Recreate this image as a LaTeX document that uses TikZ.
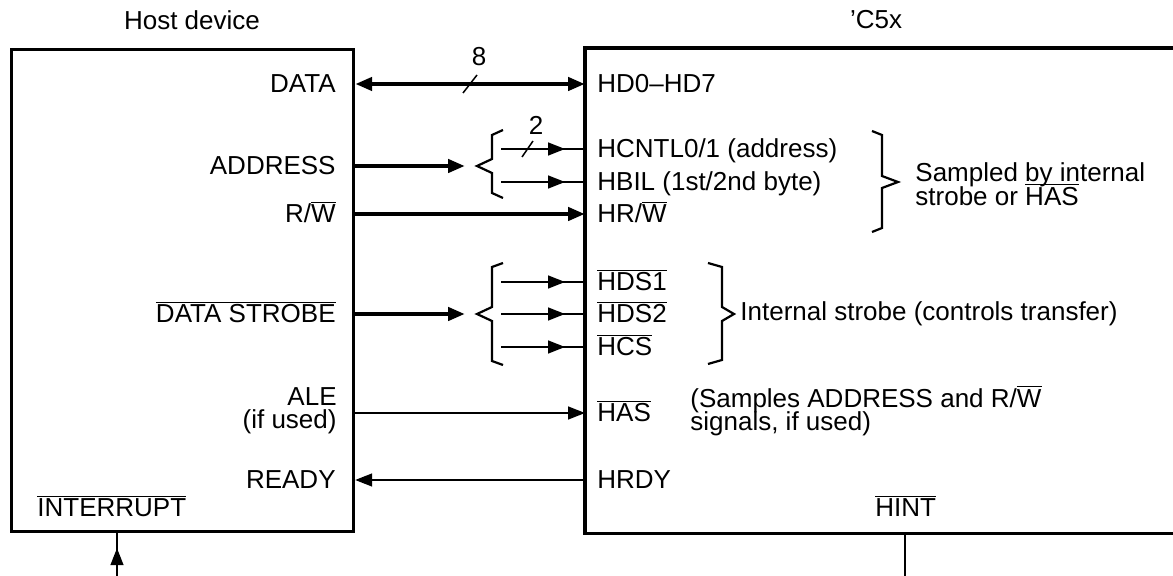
\documentclass[tikz,border=0pt]{standalone}
\usepackage{fontspec}
\setmainfont{Liberation Sans}
\usetikzlibrary{positioning, arrows.meta, calc, decorations.markings}

\newcommand{\ovl}[1]{\ensuremath{\overline{\mbox{#1}}}}

\begin{document}
\begin{tikzpicture}[
    x=0.5pt, y=-0.5pt,
    >={Triangle[length=8.5pt,width=6.5pt]},
    font=\fontsize{13}{11.75}\selectfont,
    box/.style={
        rectangle,
        line width=1.6pt,
        inner sep=0pt,
        minimum height=241pt
    },
    bus/.style={
        line width=2.4pt
    },
    wire/.style={
        line width=0.75pt
    },
    brace/.style={
        line width=1.1pt,
        line join=miter
    },
    midtip/.style={
        postaction={decorate, decoration={markings,
            mark=at position -#1 with {\arrow{>}}}}
    },
    lbl/.style={
        inner sep=0pt,
        text height=9pt,
        text depth=0pt
    },
    hostlbl/.style={
        lbl,
        anchor=east
    },
    dsplbl/.style={
        lbl,
        anchor=west
    },
    note/.style={
        inner sep=0pt,
        align=left,
        anchor=west,
        execute at begin node={\lineskiplimit=-20pt}
    }
]
    \useasboundingbox (0,0) rectangle (1173,576);

    % Boxes
    \node[box, draw, anchor=north west, minimum width=171pt] (host) at (10,48) {};
    \node[box, anchor=north west, minimum width=300pt] (c5x) at (585,48) {};
    \draw[line width=1.6pt] (c5x.north east) -- (c5x.north west)
        -- (c5x.south west) -- (c5x.south east);

    \node at (192,20) (hosttitle) {Host device};
    \node at (876,20) (c5xtitle) {'C5x};

    % Host side signals
    \node[hostlbl] at (336,84) (data) {DATA};
    \node[hostlbl] at (336,166) (addr) {ADDRESS};
    \node[hostlbl] at (336,214) (rw) {R/\ovl{W}};
    \node[hostlbl] at (336,314) (strobe) {\ovl{DATA STROBE}};
    \node[inner sep=0pt, align=right, anchor=east] at (337,411) (ale) {ALE\\(if used)};
    \node[hostlbl] at (336,480) (ready) {READY};
    \node[dsplbl] at (37,508) (intr) {\ovl{INTERRUPT}};

    % 'C5x side signals
    \node[dsplbl] at (597,84) (hd) {HD0--HD7};
    \node[dsplbl] at (597,149) (hcntl) {HCNTL0/1 (address)};
    \node[dsplbl] at (597,182) (hbil) {HBIL (1st/2nd byte)};
    \node[dsplbl] at (597,214) (hrw) {HR/\ovl{W}};
    \node[dsplbl] at (597,282) (hds1) {\ovl{HDS1}};
    \node[dsplbl] at (597,314) (hds2) {\ovl{HDS2}};
    \node[dsplbl] at (597,347) (hcs) {\ovl{HCS}};
    \node[dsplbl] at (597,413) (has) {\ovl{HAS}};
    \node[dsplbl] at (597,480) (hrdy) {HRDY};
    \node[dsplbl] at (875,508) (hint) {\ovl{HINT}};

    % Notes
    \node[note] at (915,184) (sampled) {Sampled by internal\\strobe or \ovl{HAS}};
    \node[note] at (740,314) (internal) {Internal strobe (controls transfer)};
    \node[note] at (690,411) (samples) {(Samples ADDRESS and R/\ovl{W}\\signals, if used)};

    % Braces
    \draw[brace] (503,130) -- (492,135) -- (492,159) -- (477,166) -- (492,173) -- (492,193) -- (503,198);
    \draw[brace] (503,263) -- (492,267) -- (492,307) -- (477,314) -- (492,321) -- (492,361) -- (503,365);
    \draw[brace] (872,131) -- (882,135) -- (882,176) -- (898,182) -- (882,188) -- (882,228) -- (872,232);
    \draw[brace] (708,263) -- (722,267) -- (722,307) -- (734,314) -- (722,321) -- (722,360) -- (708,364);

    \coordinate (addrin) at (465,166);
    \coordinate (strobein) at (465,314);
    \coordinate (fan) at (501,0);

    % Connections
    \draw[bus, <->] (host.east |- data) -- (c5x.west |- hd);
    \draw[wire] (463,93) -- (477,75);
    \node at (479,57) (buswidth) {8};

    \draw[bus, ->] (host.east |- addr) -- (addrin);
    \draw[wire, midtip=10pt] (fan |- hcntl) -- (c5x.west |- hcntl);
    \draw[wire, midtip=10pt] (fan |- hbil) -- (c5x.west |- hbil);
    \draw[wire] (522,157) -- (533,141);
    \node at (536,125) (addrwidth) {2};

    \draw[bus, ->] (host.east |- rw) -- (c5x.west |- hrw);

    \draw[bus, ->] (host.east |- strobe) -- (strobein);
    \draw[wire, midtip=10pt] (fan |- hds1) -- (c5x.west |- hds1);
    \draw[wire, midtip=10pt] (fan |- hds2) -- (c5x.west |- hds2);
    \draw[wire, midtip=10pt] (fan |- hcs) -- (c5x.west |- hcs);

    \draw[wire, ->] (host.east |- has) -- (c5x.west |- has);
    \draw[wire, ->] (c5x.west |- hrdy) -- (host.east |- hrdy);

    % Interrupt line
    \coordinate (intin) at (117,576);
    \coordinate (hintout) at (905,576);
    \draw[wire, midtip=7.5pt] (intin) -- (intin |- host.south);
    \draw[wire] (hintout |- c5x.south) -- (hintout);

\end{tikzpicture}
\end{document}
